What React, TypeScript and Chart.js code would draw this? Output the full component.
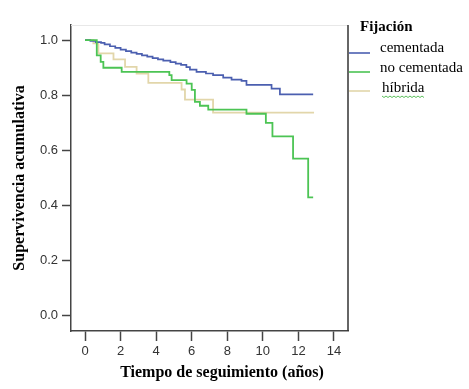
import React, { useEffect, useRef } from "react";
import { Chart, registerables } from "chart.js";

Chart.register(...registerables);

// Kaplan-Meier step data (time in years, cumulative survival)
const cementadaTimes = [0, 0.3, 0.6, 0.9, 1.1, 1.4, 1.7, 2.0, 2.3, 2.6, 2.9, 3.2, 3.5, 3.8, 4.1, 4.4, 4.8, 5.1, 5.4, 5.7, 5.9, 6.27, 6.8, 7.2, 7.77, 8.24, 8.8, 9.08, 10.49, 10.96, 12.83];
const cementadaSurv = [1.0, 0.997, 0.993, 0.99, 0.985, 0.978, 0.972, 0.966, 0.96, 0.955, 0.95, 0.945, 0.94, 0.935, 0.93, 0.926, 0.92, 0.915, 0.91, 0.902, 0.893, 0.885, 0.879, 0.873, 0.864, 0.857, 0.852, 0.838, 0.824, 0.803, 0.803];

const noCementadaTimes = [0, 0.66, 0.88, 1.03, 2.06, 4.74, 4.87, 5.71, 6.0, 6.18, 6.46, 6.93, 9.08, 10.17, 10.54, 11.7, 12.55, 12.83];
const noCementadaSurv = [1.0, 0.945, 0.921, 0.9, 0.885, 0.873, 0.855, 0.842, 0.82, 0.776, 0.762, 0.748, 0.733, 0.7, 0.651, 0.57, 0.43, 0.43];

const hibridaTimes = [0, 0.47, 0.75, 1.6, 2.25, 2.9, 3.56, 5.43, 5.62, 7.2, 12.88];
const hibridaSurv = [1.0, 0.988, 0.952, 0.93, 0.903, 0.879, 0.845, 0.821, 0.784, 0.737, 0.737];

const seriesNames = ["cementada", "no cementada", "híbrida"];
const xTicks = [0, 2, 4, 6, 8, 10, 12, 14];
const yTicks = [0, 0.2, 0.4, 0.6, 0.8, 1.0];

const legendTitle = "Fijación";
const xTitle = "Tiempo de seguimiento (años)";
const yTitle = "Supervivencia acumulativa";

const colors = ["#4B5FB0", "#4CC454", "#E2D6AA"];

const toPoints = (t: number[], s: number[]) => t.map((x, i) => ({ x, y: s[i] }));

const decorPlugin = {
  id: "decor",
  afterDraw(chart: any) {
    const ctx = chart.ctx as CanvasRenderingContext2D;
    const a = chart.chartArea;
    ctx.save();
    // top faint border
    ctx.strokeStyle = "#e8e8e8";
    ctx.lineWidth = 1;
    ctx.beginPath();
    ctx.moveTo(a.left, a.top + 0.5);
    ctx.lineTo(a.right, a.top + 0.5);
    ctx.stroke();
    // right border
    ctx.strokeStyle = "#333";
    ctx.lineWidth = 1.5;
    ctx.beginPath();
    ctx.moveTo(a.right, a.top);
    ctx.lineTo(a.right, a.bottom);
    ctx.stroke();

    // axis titles
    ctx.fillStyle = "#000";
    ctx.font = "bold 16px 'Liberation Serif', 'Times New Roman', serif";
    ctx.textAlign = "center";
    ctx.textBaseline = "middle";
    ctx.fillText(xTitle, 222, 373);
    ctx.save();
    ctx.translate(20, 178);
    ctx.rotate(-Math.PI / 2);
    ctx.fillText(yTitle, 0, 0);
    ctx.restore();

    // legend
    ctx.textAlign = "left";
    ctx.font = "bold 15px 'Liberation Serif', 'Times New Roman', serif";
    ctx.fillText(legendTitle, 360, 27);
    ctx.font = "15px 'Liberation Serif', 'Times New Roman', serif";
    const lineYs = [53, 72, 91];
    const textYs = [48, 68, 88];
    const textXs = [380, 380, 382];
    seriesNames.forEach((name, i) => {
      ctx.strokeStyle = colors[i];
      ctx.lineWidth = 1.6;
      ctx.beginPath();
      ctx.moveTo(a.right + 1, lineYs[i]);
      ctx.lineTo(370, lineYs[i]);
      ctx.stroke();
      ctx.fillStyle = "#000";
      ctx.fillText(name, textXs[i], textYs[i]);
    });
    // spell-check squiggle under híbrida
    const w = ctx.measureText(seriesNames[2]).width;
    ctx.strokeStyle = "#5bbf5b";
    ctx.lineWidth = 1;
    ctx.beginPath();
    for (let x = 0; x <= w; x += 2) {
      const y = 96 + ((x / 2) % 2 === 0 ? 0 : 1.5);
      if (x === 0) ctx.moveTo(textXs[2] + x, y);
      else ctx.lineTo(textXs[2] + x, y);
    }
    ctx.stroke();
    ctx.restore();
  },
};

export default function App() {
  const ref = useRef<HTMLCanvasElement | null>(null);
  useEffect(() => {
    document.body.style.margin = "0";
    const canvas = ref.current!;
    const tickFont = { family: "'Liberation Sans', Arial, sans-serif", size: 13 };
    const chart = new Chart(canvas, {
      type: "line",
      data: {
        datasets: [
          {
            label: seriesNames[1],
            data: toPoints(noCementadaTimes, noCementadaSurv),
            borderColor: colors[1],
            borderWidth: 1.8,
            stepped: "before",
            pointRadius: 0,
            fill: false,
            order: 0,
          },
          {
            label: seriesNames[0],
            data: toPoints(cementadaTimes, cementadaSurv),
            borderColor: colors[0],
            borderWidth: 1.7,
            stepped: "before",
            pointRadius: 0,
            fill: false,
            order: 1,
          },
          {
            label: seriesNames[2],
            data: toPoints(hibridaTimes, hibridaSurv),
            borderColor: colors[2],
            borderWidth: 1.8,
            stepped: "before",
            pointRadius: 0,
            fill: false,
            order: 2,
          },
        ],
      },
      options: {
        responsive: false,
        animation: false,
        layout: { padding: { left: 0, top: 25, right: 121, bottom: 0 } },
        plugins: { legend: { display: false }, tooltip: { enabled: false } },
        scales: {
          x: {
            type: "linear",
            min: -0.79,
            max: 14.79,
            afterBuildTicks: (scale: any) => {
              scale.ticks = xTicks.map((v) => ({ value: v }));
            },
            afterFit: (scale: any) => {
              scale.height = 58;
            },
            ticks: {
              font: tickFont,
              color: "#333",
              padding: 3,
              maxRotation: 0,
              callback: (v: any) => String(v),
            },
            grid: { drawOnChartArea: false, drawTicks: true, tickLength: 10, tickColor: "#444", tickWidth: 1.5 },
            border: { display: true, color: "#444", width: 1.5 },
          },
          y: {
            type: "linear",
            min: -0.055,
            max: 1.055,
            afterBuildTicks: (scale: any) => {
              scale.ticks = yTicks.map((v) => ({ value: v }));
            },
            afterFit: (scale: any) => {
              scale.width = 71;
            },
            ticks: {
              font: tickFont,
              color: "#333",
              padding: 4,
              callback: (v: any) => Number(v).toFixed(1),
            },
            grid: { drawOnChartArea: false, drawTicks: true, tickLength: 9, tickColor: "#444", tickWidth: 1.5 },
            border: { display: true, color: "#444", width: 1.5 },
          },
        },
      },
      plugins: [decorPlugin],
    } as any);
    return () => chart.destroy();
  }, []);
  return (
    <div style={{ width: 469, height: 389, background: "#fff" }}>
      <canvas ref={ref} width={469} height={389} style={{ display: "block" }} />
    </div>
  );
}
